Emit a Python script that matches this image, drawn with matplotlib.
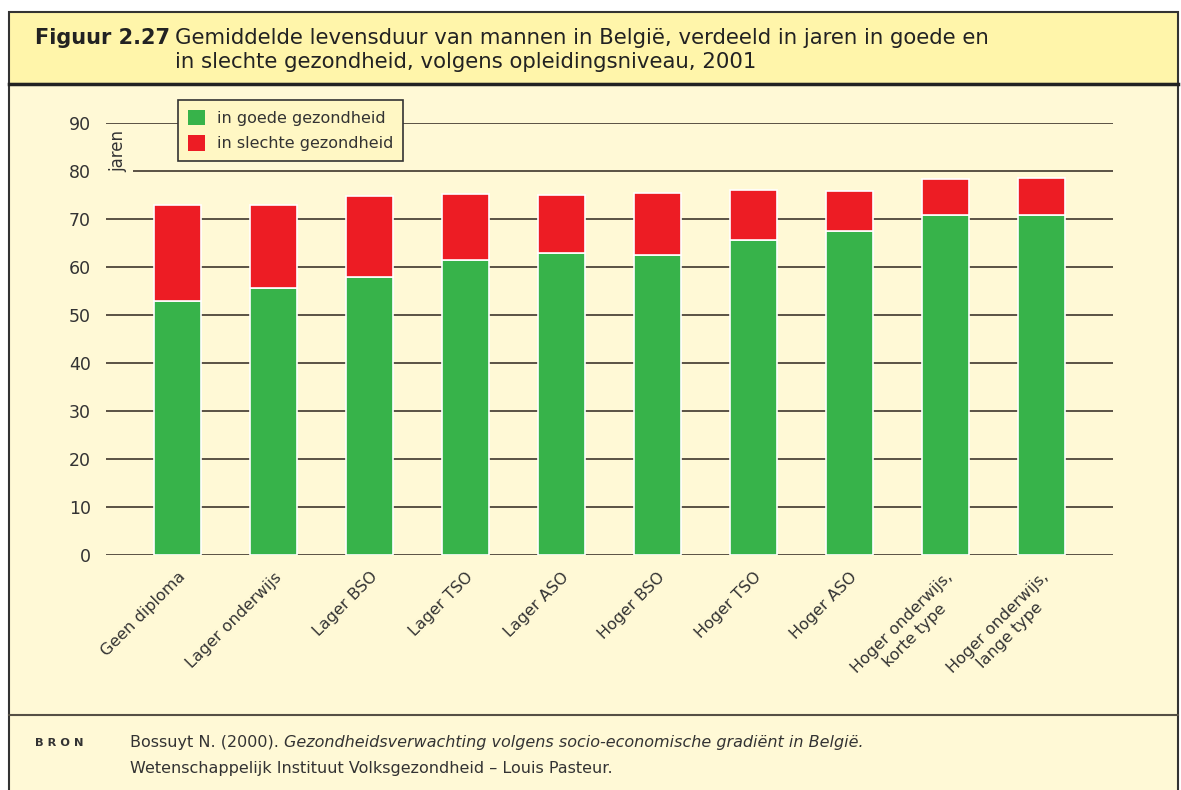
import numpy as np
import matplotlib
matplotlib.use('Agg')
import matplotlib.pyplot as plt
from matplotlib.patches import Rectangle
from matplotlib.lines import Line2D

categories = ['Geen diploma', 'Lager onderwijs', 'Lager BSO', 'Lager TSO', 'Lager ASO',
              'Hoger BSO', 'Hoger TSO', 'Hoger ASO',
              'Hoger onderwijs,\nkorte type', 'Hoger onderwijs,\nlange type']
goed = [53.0, 55.6, 58.0, 61.4, 62.9, 62.4, 65.7, 67.5, 70.9, 70.9]
slecht = [19.9, 17.4, 16.8, 13.9, 12.0, 13.1, 10.4, 8.3, 7.4, 7.6]
yticks = [0, 10, 20, 30, 40, 50, 60, 70, 80, 90]

GREEN = '#37b34a'
RED = '#ed1c24'
BAND = '#fff5aa'
CREAM = '#fff9d6'
INK = '#333333'
GRID = '#4d4539'

W, H = 1181, 790
fig = plt.figure(figsize=(W / 100, H / 100), dpi=100)
fig.patch.set_facecolor('white')

def fx(px): return px / W
def fy(py): return 1 - py / H

# frame: title band, cream body, separator lines
fig.add_artist(Rectangle((fx(9), fy(800)), fx(1178) - fx(9), fy(84) - fy(800),
                         transform=fig.transFigure, facecolor=CREAM, edgecolor='#333333', lw=1.5, zorder=0))
fig.add_artist(Rectangle((fx(9), fy(84)), fx(1178) - fx(9), fy(12) - fy(84),
                         transform=fig.transFigure, facecolor=BAND, edgecolor='#333333', lw=1.5, zorder=0))
fig.add_artist(Line2D([fx(9), fx(1178)], [fy(84), fy(84)], transform=fig.transFigure, color='#222222', lw=2.5))
fig.add_artist(Line2D([fx(9), fx(1178)], [fy(715), fy(715)], transform=fig.transFigure, color='#555045', lw=1.5))

# title
fig.text(fx(35), fy(38), 'Figuur 2.27', fontsize=15, fontweight='bold', color='#222222', va='center')
fig.text(fx(175), fy(38), 'Gemiddelde levensduur van mannen in België, verdeeld in jaren in goede en',
         fontsize=15.3, color='#222222', va='center')
fig.text(fx(175), fy(62), 'in slechte gezondheid, volgens opleidingsniveau, 2001',
         fontsize=15.3, color='#222222', va='center')

# chart
ax = fig.add_axes([fx(106), fy(555), fx(1113) - fx(106), fy(123) - fy(555)])
ax.set_facecolor('none')
x = np.arange(len(categories))
ax.bar(x, goed, width=0.49, color=GREEN, edgecolor='white', lw=1.2, zorder=3)
ax.bar(x, slecht, bottom=goed, width=0.49, color=RED, edgecolor='white', lw=1.2, zorder=3)
for v in yticks:
    ax.axhline(v, color=GRID, lw=1.3, zorder=1)
ax.set_xlim(-0.75, len(categories) - 0.25)
ax.set_ylim(0, 90)
ax.set_yticks(yticks)
ax.set_yticklabels([str(v) for v in yticks], fontsize=12.5, color=INK)
ax.tick_params(axis='y', length=0, pad=11)
ax.tick_params(axis='x', length=0)
ax.set_xticks([])
for s in ax.spines.values():
    s.set_visible(False)

for xi, lab in zip(x, categories):
    ax.text(xi + 0.0, -3.0, lab, rotation=45, ha='right', va='top', rotation_mode='anchor',
            multialignment='center', fontsize=11.5, color=INK, clip_on=False)

fig.text(fx(118), fy(151), 'jaren', rotation=90, fontsize=12, color=INK, ha='center', va='center',
         bbox=dict(facecolor=CREAM, edgecolor='none', pad=4))

# legend
leg_items = [Rectangle((0, 0), 1, 1, facecolor=GREEN, edgecolor='none'),
             Rectangle((0, 0), 1, 1, facecolor=RED, edgecolor='none')]
leg = fig.legend(leg_items, ['in goede gezondheid', 'in slechte gezondheid'],
                 loc='upper left', bbox_to_anchor=(fx(178), fy(100)), borderaxespad=0, fontsize=11.5,
                 frameon=True, fancybox=False, handlelength=1.1, handleheight=1.1,
                 handletextpad=0.75, labelspacing=0.6, borderpad=0.6, labelcolor=INK)
leg.get_frame().set_facecolor('#fff7c4')
leg.get_frame().set_edgecolor('#333333')
leg.get_frame().set_linewidth(1.2)
leg.get_frame().set_alpha(1)

# footer
fig.text(fx(35), fy(743), 'B R O N', fontsize=8.2, fontweight='bold', color='#333333', va='center')
fig.canvas.draw()
r = fig.canvas.get_renderer()
t1 = fig.text(fx(130), fy(743), 'Bossuyt N. (2000). ', fontsize=11.5, color=INK, va='center')
bb = t1.get_window_extent(r)
fig.text(bb.x1 / W, fy(743), 'Gezondheidsverwachting volgens socio-economische gradiënt in België.',
         fontsize=11.5, style='italic', color=INK, va='center')
fig.text(fx(130), fy(768), 'Wetenschappelijk Instituut Volksgezondheid \u2013 Louis Pasteur.',
         fontsize=11.5, color=INK, va='center')

fig.savefig('out.png', dpi=100)
